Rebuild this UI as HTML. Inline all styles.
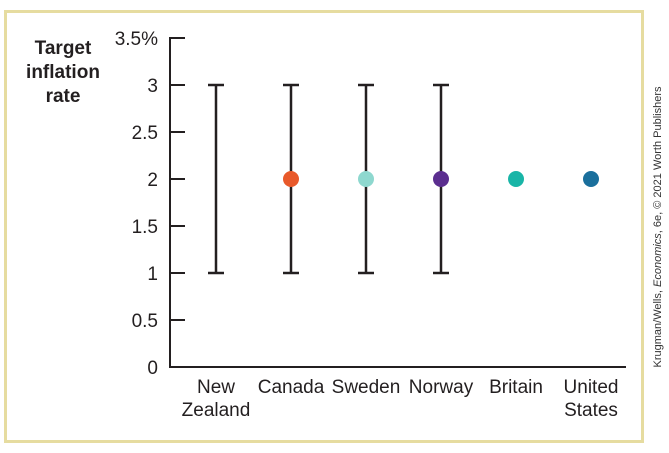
<!DOCTYPE html>
<html><head><meta charset="utf-8"><style>
html,body{margin:0;padding:0;background:#fff;}
svg{display:block;font-family:"Liberation Sans Narrow","Liberation Sans",sans-serif;}
</style></head><body>
<svg id="chart" width="669" height="453" viewBox="0 0 669 453" xmlns="http://www.w3.org/2000/svg">
<rect x="5.5" y="11.5" width="637" height="430" fill="#fff" stroke="#e6dca0" stroke-width="3"/>
<g font-weight="bold" font-size="19" fill="#231f20" text-anchor="middle" font-family="Liberation Sans, sans-serif">
<text x="63" y="54">Target</text><text x="63" y="78">inflation</text><text x="63" y="102">rate</text>
</g>
<g id="axes"></g>
<g id="marks"></g>
<text transform="translate(661,227) rotate(-90)" text-anchor="middle" font-size="11" fill="#333" font-family="Liberation Sans, sans-serif">Krugman/Wells, <tspan font-style="italic">Economics</tspan>, 6e, © 2021 Worth Publishers</text>
</svg>
<script>
const categories=[["New","Zealand"],["Canada"],["Sweden"],["Norway"],["Britain"],["United","States"]];
const lows=[1,1,1,1,null,null];
const highs=[3,3,3,3,null,null];
const points=[null,2,2,2,2,2];
const colors=[null,"#e8592a","#8ed8cf","#5b2e8f","#19b5a7","#1a6f9c"];
const yTicks=[0,0.5,1,1.5,2,2.5,3,3.5];
const yTickLabels=["0","0.5","1","1.5","2","2.5","3","3.5%"];
const NS="http://www.w3.org/2000/svg";
const y0=367,y1=38,vmax=3.5;
function ys(v){return y0-(v/vmax)*(y0-y1);}
function xs(i){return 216+i*75;}
function mk(tag,attrs,parent){const e=document.createElementNS(NS,tag);for(const k in attrs)e.setAttribute(k,attrs[k]);parent.appendChild(e);return e;}
const ax=document.getElementById('axes'),mg=document.getElementById('marks');
let e=mk('line',{x1:170,y1:ys(3.5)-1,x2:170,y2:y0+1,stroke:'#231f20','stroke-width':2},ax);

e=mk('line',{x1:169,y1:y0,x2:626,y2:y0,stroke:'#231f20','stroke-width':2},ax);

yTicks.forEach((v,i)=>{
 const t=mk('line',{x1:170,y1:ys(v),x2:185,y2:ys(v),stroke:'#231f20','stroke-width':2},ax);
 
 const l=mk('text',{x:158,y:ys(v)+7,'text-anchor':'end','font-size':19,fill:'#231f20'},ax);
 l.textContent=yTickLabels[i];
 
});
categories.forEach((c,i)=>{
 c.forEach((s,j)=>{
  const l=mk('text',{x:xs(i),y:393+j*23,'text-anchor':'middle','font-size':19,fill:'#231f20'},ax);
  l.textContent=s;
  
 });
 if(lows[i]!==null){
  const g=mk('g',{stroke:'#231f20','stroke-width':2.5},mg);
  
  mk('line',{x1:xs(i),y1:ys(highs[i]),x2:xs(i),y2:ys(lows[i])},g);
  mk('line',{x1:xs(i)-8,y1:ys(highs[i]),x2:xs(i)+8,y2:ys(highs[i])},g);
  mk('line',{x1:xs(i)-8,y1:ys(lows[i]),x2:xs(i)+8,y2:ys(lows[i])},g);
 }
 if(points[i]!==null){
  const d=mk('circle',{cx:xs(i),cy:ys(points[i]),r:8,fill:colors[i]},mg);
  
 }
});
</script>
</body></html>
